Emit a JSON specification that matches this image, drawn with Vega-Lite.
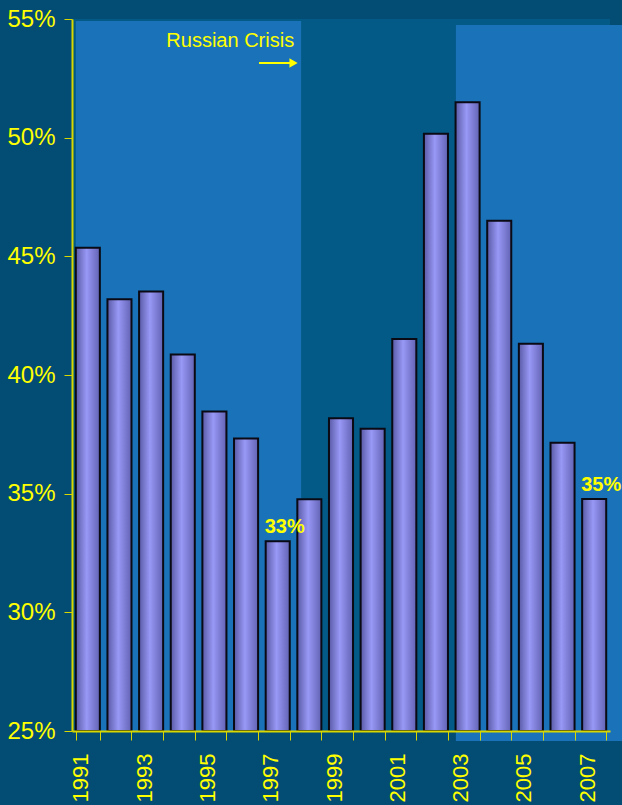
{
  "$schema": "https://vega.github.io/schema/vega-lite/v6.json",
  "width": 538,
  "height": 712,
  "autosize": "none",
  "padding": {"left": 72, "top": 19, "right": 12, "bottom": 74},
  "background": "#034c74",
  "config": {
    "view": {"stroke": null, "fill": "#035a86"},
    "font": "Liberation Sans",
    "axis": {"grid": false}
  },
  "datasets": {
    "bars": [
      {"year": 1991, "share": 45.36},
      {"year": 1992, "share": 43.19},
      {"year": 1993, "share": 43.52},
      {"year": 1994, "share": 40.86},
      {"year": 1995, "share": 38.46},
      {"year": 1996, "share": 37.32},
      {"year": 1997, "share": 33.0, "label": "33%"},
      {"year": 1998, "share": 34.77},
      {"year": 1999, "share": 38.18},
      {"year": 2000, "share": 37.73},
      {"year": 2001, "share": 41.52},
      {"year": 2002, "share": 50.17},
      {"year": 2003, "share": 51.49},
      {"year": 2004, "share": 46.5},
      {"year": 2005, "share": 41.32},
      {"year": 2006, "share": 37.15},
      {"year": 2007, "share": 34.78, "label": "35%"}
    ],
    "periods": [
      {"start": 1990.62, "end": 1997.74, "top": 54.92, "bottom": 25},
      {"start": 2002.63, "end": 2007.9, "top": 54.75, "bottom": 24.58}
    ],
    "note": [
      {"x1": 1996.41, "x2": 1997.5, "xt": 1997.52, "ya": 53.15, "yt": 54.07, "text": "Russian Crisis"}
    ]
  },
  "resolve": {"scale": {"x": "independent"}},
  "layer": [
    {
      "data": {"name": "periods"},
      "mark": {"type": "rect", "color": "#1a72b8", "clip": false},
      "encoding": {
        "x": {"field": "start", "type": "quantitative", "scale": {"domain": [1990.5, 2007.5], "zero": false, "nice": false}, "axis": null},
        "x2": {"field": "end"},
        "y": {
          "field": "top", "type": "quantitative", "title": null,
          "scale": {"domain": [25, 55], "zero": false, "nice": false},
          "axis": {
            "title": null,
            "values": [25, 30, 35, 40, 45, 50, 55],
            "labelExpr": "datum.value + '%'",
            "labelFontSize": 24,
            "labelColor": "#ffff00",
            "labelPadding": 9,
            "tickSize": 8,
            "tickColor": "#d8d800",
            "domainColor": "#d8d800",
            "domainWidth": 2,
            "zindex": 1
          }
        },
        "y2": {"field": "bottom"}
      }
    },
    {
      "data": {"name": "bars"},
      "mark": {
        "type": "bar",
        "stroke": "#0a0a14",
        "strokeWidth": 2,
        "fill": {
          "gradient": "linear",
          "x1": 0, "x2": 1, "y1": 0, "y2": 0,
          "stops": [
            {"offset": 0, "color": "#5a5aa6"},
            {"offset": 0.45, "color": "#9898f6"},
            {"offset": 1, "color": "#6262b4"}
          ]
        }
      },
      "encoding": {
        "x": {
          "field": "year", "type": "ordinal",
          "scale": {"paddingInner": 0.24, "paddingOuter": 0.12},
          "axis": {
            "title": null,
            "labelAngle": -90,
            "labelFontSize": 22,
            "labelColor": "#ffff00",
            "labelPadding": 13,
            "labelOffset": -7,
            "labelExpr": "datum.value % 2 == 1 ? datum.label : ''",
            "tickBand": "extent",
            "tickSize": 9,
            "tickColor": "#d8d800",
            "domainColor": "#d8d800",
            "domainWidth": 2,
            "zindex": 1
          }
        },
        "y": {"field": "share", "type": "quantitative", "title": null},
        "y2": {"datum": 25}
      }
    },
    {
      "data": {"name": "bars"},
      "transform": [{"filter": "datum.label != null"}],
      "mark": {"type": "text", "fontSize": 20, "fontWeight": "bold", "color": "#ffff00", "baseline": "bottom", "dy": -4, "dx": 7, "clip": false},
      "encoding": {
        "x": {"field": "year", "type": "ordinal", "scale": {"domain": [1991,1992,1993,1994,1995,1996,1997,1998,1999,2000,2001,2002,2003,2004,2005,2006,2007], "paddingInner": 0.24, "paddingOuter": 0.12}, "axis": null},
        "y": {"field": "share", "type": "quantitative", "title": null},
        "text": {"field": "label"}
      }
    },
    {
      "data": {"name": "note"},
      "mark": {"type": "rule", "color": "#ffff00", "strokeWidth": 2},
      "encoding": {
        "x": {"field": "x1", "type": "quantitative", "scale": {"domain": [1990.5, 2007.5], "zero": false, "nice": false}, "axis": null},
        "x2": {"field": "x2"},
        "y": {"field": "ya", "type": "quantitative", "title": null}
      }
    },
    {
      "data": {"name": "note"},
      "mark": {"type": "point", "shape": "triangle-right", "filled": true, "color": "#ffff00", "size": 90, "opacity": 1},
      "encoding": {
        "x": {"field": "x2", "type": "quantitative", "scale": {"domain": [1990.5, 2007.5], "zero": false, "nice": false}, "axis": null},
        "y": {"field": "ya", "type": "quantitative", "title": null}
      }
    },
    {
      "data": {"name": "note"},
      "mark": {"type": "text", "align": "right", "baseline": "middle", "fontSize": 20, "color": "#ffff00"},
      "encoding": {
        "x": {"field": "xt", "type": "quantitative", "scale": {"domain": [1990.5, 2007.5], "zero": false, "nice": false}, "axis": null},
        "y": {"field": "yt", "type": "quantitative", "title": null},
        "text": {"field": "text"}
      }
    }
  ]
}
